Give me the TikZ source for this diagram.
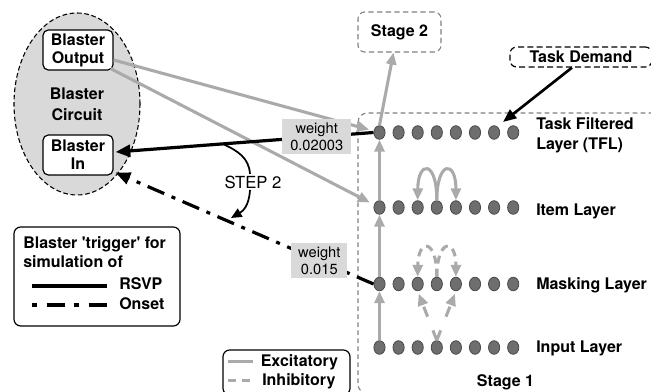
\documentclass[tikz,border=0pt]{standalone}
\usepackage{fontspec}
\setmainfont{TeX Gyre Heros}
\usetikzlibrary{arrows.meta,calc,shapes.geometric}
\definecolor{exgray}{HTML}{AAAAAA}
\definecolor{boxgray}{HTML}{D9D9D9}
\definecolor{neufill}{HTML}{6E6E6E}
\definecolor{neuline}{HTML}{4A4A4A}
\definecolor{dashgray}{HTML}{808080}
\begin{document}
\begin{tikzpicture}[x=0.75pt,y=-0.75pt,
  lbl/.style={font=\fontsize{12}{14}\selectfont\bfseries},
  neuron/.style={ellipse, draw=neuline, fill=neufill, line width=0.6pt, minimum width=8.4pt, minimum height=10.2pt, inner sep=0pt},
  exc/.style={draw=exgray, line width=2.3pt, -{Triangle[length=9pt,width=7.5pt]}},
  inh/.style={exc, dash pattern=on 6pt off 4pt},
  blk/.style={draw=black, line width=2.4pt, -{Triangle[length=11pt,width=9pt]}},
  dashdot/.style={dash pattern=on 13.5pt off 6pt on 3pt off 6pt},
  wbox/.style={fill=boxgray, font=\fontsize{11}{12.5}\selectfont, align=center, inner sep=0pt, minimum width=52pt, minimum height=26pt},
  blbox/.style={draw=black, fill=white, rounded corners=4pt, line width=0.9pt, align=center, font=\fontsize{12}{13.5}\selectfont\bfseries, minimum width=52.5pt, minimum height=30pt, inner sep=1pt},
  legbox/.style={draw=black, rounded corners=5pt, line width=0.9pt},
]
\useasboundingbox (0,0) rectangle (651,392);
\clip (0,0) rectangle (651,392);

% Stage 1 region
\draw[draw=dashgray, line width=0.8pt, dash pattern=on 3.5pt off 2.5pt, rounded corners=7pt] (358,113) rectangle (680,393.5);

% Stage 2 and Task Demand
\node[draw=dashgray, line width=0.8pt, dash pattern=on 4pt off 2.5pt, rounded corners=5pt, minimum width=62.25pt, minimum height=30pt, lbl] (s2) at (399.5,32) {Stage 2};
\node[draw=black, line width=0.9pt, dash pattern=on 4.5pt off 2.5pt, rounded corners=5pt, minimum width=106.5pt, minimum height=15pt, inner sep=0pt, lbl] (td) at (581,57) {Task Demand};

% Blaster circuit
\node[ellipse, draw=black, fill=boxgray, line width=0.8pt, dash pattern=on 3.5pt off 2pt, minimum width=94.5pt, minimum height=136.5pt, align=center, font=\fontsize{12}{16}\selectfont\bfseries] (bc) at (77,104) {Blaster\\Circuit};
\node[blbox] (bo) at (78,50) {Blaster\\Output};
\node[blbox] (bi) at (78,155) {Blaster\\In};

% neurons
\foreach \r/\yy in {t/132.5, it/207.5, ms/284, ip/347.5}{
  \foreach \k in {1,...,8}{
    \node[neuron] (\r\k) at ({379.5+19.1*(\k-1)},\yy) {};
  }
}

% layer labels
\node[lbl, anchor=north west, align=left, inner sep=0pt, font=\fontsize{12}{15}\selectfont\bfseries] (ltfl) at (536,117.5) {Task Filtered\\Layer (TFL)};
\node[lbl, anchor=base west, inner sep=0pt] (lit) at (536,216) {Item Layer};
\node[lbl, anchor=base west, inner sep=0pt] (lms) at (536,290) {Masking Layer};
\node[lbl, anchor=base west, inner sep=0pt] (lip) at (536,353) {Input Layer};
\node[lbl, anchor=base, inner sep=0pt] (ls1) at (505.5,387) {Stage 1};

% excitatory feedforward
\draw[exc] (ip1.north) -- (ms1.south);
\draw[exc] (ms1.north) -- (it1.south);
\draw[exc] (it1.north) -- (t1.south);
\draw[exc] (t1.north) -- ($(s2.south)+(-6,0)$);

% item layer recurrent loops
\draw[exc] (it4.north) .. controls (437,160) and (418,160) .. (it3.north);
\draw[exc] (it4.north) .. controls (437,160) and (456,160) .. (it5.north);

% masking inhibitory loops
\draw[inh] (ms4.north) .. controls (437,238) and (418,238) .. (ms3.north);
\draw[inh] (ms4.north) .. controls (437,238) and (456,238) .. (ms5.north);

% input to masking
\draw[exc, dash pattern=on 8pt off 11pt, shorten >=2pt] (ip4.north) -- (ms3.south);
\draw[exc, dash pattern=on 8pt off 11pt, shorten >=2pt] (ip4.north) -- (ms5.south);

% Blaster output projections
\draw[exc, shorten >=3.5pt] ($(bo.east)+(0,10)$) -- (t1);
\draw[exc, shorten >=3.5pt] ($(bo.south east)+(-3,-2)$) -- (it1);

% triggers to Blaster In
\draw[blk] (t1.west) -- ($(bi.east)+(2,-3)$) node[wbox, pos=0.22] {weight\\0.02003};
\draw[blk, dashdot] (ms1.west) -- ($(bi.south east)+(2,-3)$) node[wbox, pos=0.21, minimum width=42pt] {weight\\0.015};

% task demand arrow
\coordinate (tdtip) at (503,122);
\draw[blk, line width=2pt, -{Triangle[length=10pt,width=8pt]}] ($(td.south)+(-9,0)$) -- (tdtip);

% STEP 2
\node[font=\fontsize{12.5}{14}\selectfont, inner sep=1pt] (st) at (253,182) {STEP 2};
\coordinate (sa) at (223,144);
\coordinate (sb) at (231,218);
\draw[line width=1.3pt] (sa) .. controls (238,151) and (249,158) .. ($(st.north)+(-3,0)$);
\draw[line width=1.3pt, -{Triangle[length=8pt,width=7pt]}] ($(st.south)+(-3,0)$) .. controls (249,206) and (243,211) .. (sb);

% legend 1
\node[legbox, minimum width=124.5pt, minimum height=74.25pt] (lg1) at (97,276.5) {};
\node[lbl, anchor=north west, align=left, inner sep=0pt, font=\fontsize{12}{14.25}\selectfont\bfseries] (lg1t) at (23,236.5) {Blaster \textquotesingle trigger\textquotesingle{} for\\simulation of};
\draw[line width=2.3pt] (32,286) -- (107,286);
\node[lbl, anchor=base west, inner sep=0pt] (lrsvp) at (119,290) {RSVP};
\draw[line width=2.3pt, dash pattern=on 4pt off 7pt on 13.5pt off 7pt] (32,305) -- (107,305);
\node[lbl, anchor=base west, inner sep=0pt] (lons) at (119,310) {Onset};

% legend 2
\node[legbox, minimum width=95.25pt, minimum height=33.75pt] (lg2) at (286.5,372.5) {};
\draw[draw=exgray, line width=2.3pt] (228,361.5) -- (253,361.5);
\node[lbl, anchor=base west, inner sep=0pt] (lexc) at (260.5,367) {Excitatory};
\draw[draw=exgray, line width=2.3pt, dash pattern=on 6pt off 4.5pt] (228,380.5) -- (253,380.5);
\node[lbl, anchor=base west, inner sep=0pt] (linh) at (262,385.7) {Inhibitory};
\end{tikzpicture}
\end{document}
